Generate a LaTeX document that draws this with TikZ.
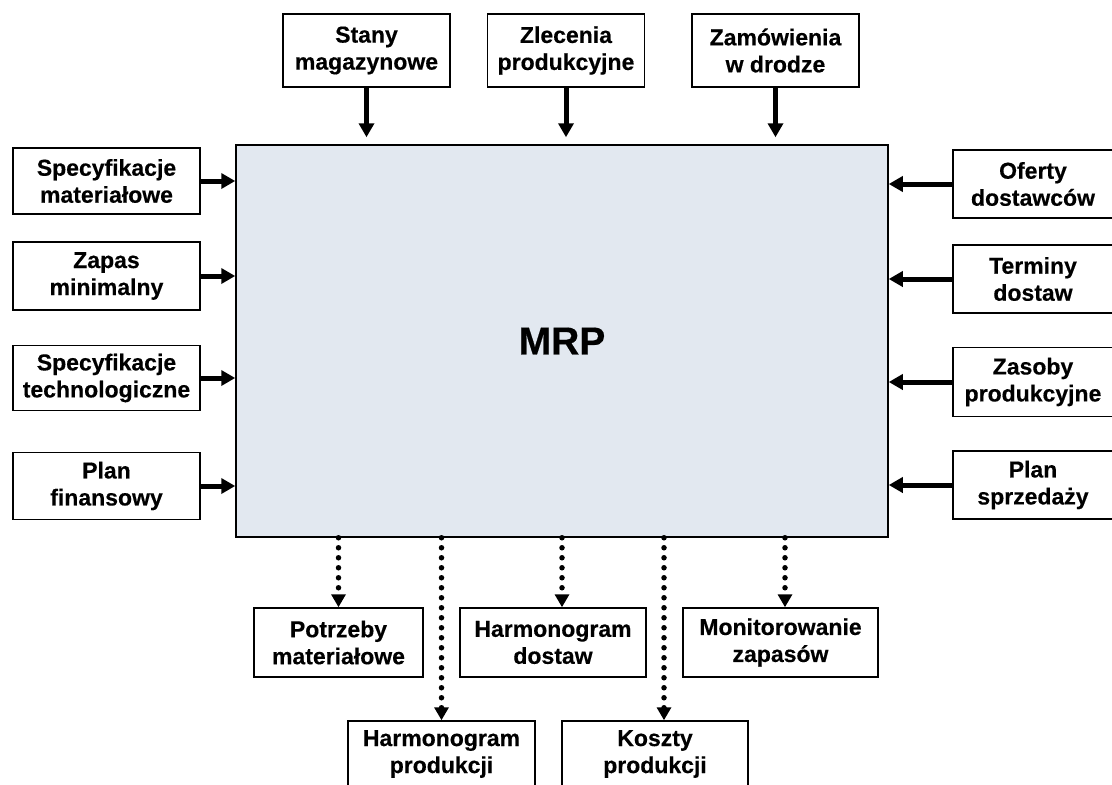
\documentclass[tikz,border=0pt]{standalone}
\usepackage{fontspec}
\setmainfont[BoldFeatures={FakeBold=0.4}]{Liberation Sans}
\usetikzlibrary{arrows.meta,calc}
\definecolor{mrpfill}{RGB}{226,232,240}
\begin{document}
\begin{tikzpicture}[x=1pt,y=-1pt,
  box/.style={draw, line width=1.5pt, fill=white, align=center, inner sep=0pt,
    font=\bfseries\fontsize{23}{27}\selectfont},
  feed/.style={line width=5pt, -{Triangle[length=14pt,width=15pt]}},
  yield/.style={line width=5.5pt, line cap=round, dash pattern=on 0pt off 10pt,
    -{Triangle[length=13pt,width=14pt]}}]
\useasboundingbox (0,0) rectangle (1112,785);

% central system
\node[draw, line width=1.5pt, fill=mrpfill, minimum width=652, minimum height=392,
  font=\bfseries\fontsize{39}{44}\selectfont] (mrp) at (562,341) {MRP};

% inputs from above
\node[box, minimum width=167, minimum height=73] (stany) at (366.5,50.5) {Stany\\magazynowe};
\node[box, minimum width=157, minimum height=73] (zlec)  at (566,50.5) {Zlecenia\\produkcyjne};
\node[box, minimum width=167, minimum height=73] (zam)   at (775.5,50.5) {Zamówienia\\w drodze};

% inputs from the left
\node[box, minimum width=187, minimum height=66] (specmat) at (106.5,181) {Specyfikacje\\materiałowe};
\node[box, minimum width=187, minimum height=68] (zapas)   at (106.5,276) {Zapas\\minimalny};
\node[box, minimum width=187, minimum height=65] (spectech) at (106.5,378) {Specyfikacje\\technologiczne};
\node[box, minimum width=187, minimum height=67] (finans)  at (106.5,486) {Plan\\finansowy};

% inputs from the right
\node[box, minimum width=160, minimum height=68] (oferty)  at (1033,184) {Oferty\\dostawców};
\node[box, minimum width=160, minimum height=68] (terminy) at (1033,279) {Terminy\\dostaw};
\node[box, minimum width=160, minimum height=69] (zasoby)  at (1033,382) {Zasoby\\produkcyjne};
\node[box, minimum width=160, minimum height=68] (sprzed)  at (1033,485) {Plan\\sprzedaży};

% outputs, first row
\node[box, minimum width=169, minimum height=69] (potrz) at (338.5,642.5) {Potrzeby\\materiałowe};
\node[box, minimum width=186, minimum height=69] (hdost) at (553,642.5) {Harmonogram\\dostaw};
\node[box, minimum width=195, minimum height=69] (monit) at (780.5,642.5) {Monitorowanie\\zapasów};

% outputs, second row
\node[box, minimum width=187, minimum height=66] (hprod)  at (441.5,754) {Harmonogram\\produkcji};
\node[box, minimum width=186, minimum height=66] (koszty) at (655,754) {Koszty\\produkcji};

% inflows
\foreach \n in {stany,zlec,zam}
  \draw[feed, shorten >=7pt] (\n.south) -- (\n.south |- mrp.north);
\foreach \n in {specmat,zapas,spectech,finans}
  \draw[feed] (\n.east) -- (\n.east -| mrp.west);
\foreach \n in {oferty,terminy,zasoby,sprzed}
  \draw[feed] (\n.west) -- (\n.west -| mrp.east);

% outflows
\coordinate (hdin) at ($(hdost.north)+(9,0)$);
\coordinate (mzin) at ($(monit.north)+(4.5,0)$);
\coordinate (kpin) at ($(koszty.north)+(9,0)$);
\draw[yield] (potrz.north |- mrp.south) -- (potrz.north);
\draw[yield] (hdin |- mrp.south) -- (hdin);
\draw[yield] (mzin |- mrp.south) -- (mzin);
\draw[yield] (hprod.north |- mrp.south) -- (hprod.north);
\draw[yield] (kpin |- mrp.south) -- (kpin);
\end{tikzpicture}
\end{document}
